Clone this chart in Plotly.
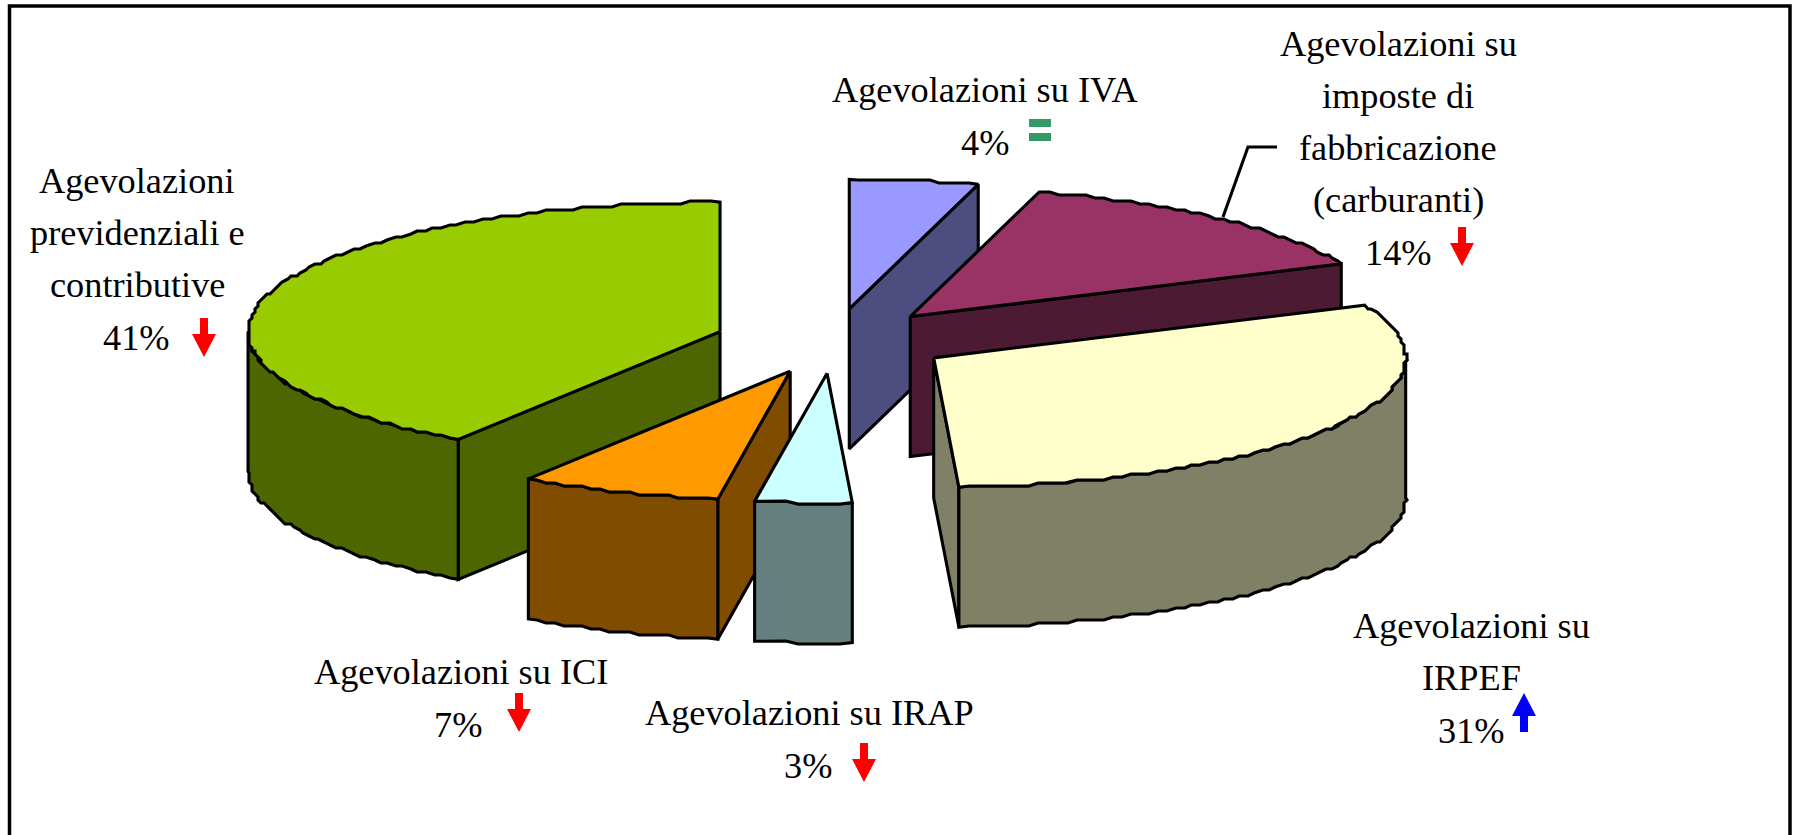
import numpy as np
import plotly.graph_objects as go

# ---- data, clockwise from 12 o'clock ----
categories = ["Agevolazioni su IVA", "Agevolazioni su imposte di fabbricazione (carburanti)",
              "Agevolazioni su IRPEF", "Agevolazioni su IRAP", "Agevolazioni su ICI",
              "Agevolazioni previdenziali e contributive"]
values = [4.4, 13.9, 30.8, 3.3, 6.9, 40.6]
top_colors = ["#9999FF", "#993366", "#FFFFCC", "#CCFFFF", "#FF9900", "#99CC00"]
side_colors = ["#4D4D80", "#4D1A33", "#808066", "#668080", "#804D00", "#4D6600"]
draw_order = [0, 1, 2, 5, 4, 3]

label_lines = [
    ["Agevolazioni su IVA"],
    ["Agevolazioni su", "imposte di", "fabbricazione", "(carburanti)"],
    ["Agevolazioni su", "IRPEF"],
    ["Agevolazioni su IRAP"],
    ["Agevolazioni su ICI"],
    ["Agevolazioni", "previdenziali e", "contributive"],
]
label_x = [985, 1398, 1471, 809, 461, 137]
label_base = [102, 56, 638, 725, 684, 193]
pct_x = [985, 1398, 1471, 808, 458, 136]
trend = ["eq", "down", "up", "down", "down", "down"]
trend_x = [1040, 1462, 1524, 864, 519, 204]
trend_y = [119, 227, 693, 743, 693, 318]

# ---- geometry ----
CX, CY, RX, RY, DEPTH, EXPLODE, GRID = 833, 341, 472, 129.5, 140, 0.25, 3
ARC_STEP = 1.2
LINE = 3.1
FONT = 36.3
PITCH = 52
total = sum(values)
edges = np.concatenate([[0], np.cumsum(values)]) / total * 360


def unit(theta):
    t = np.radians(theta)
    return RX * np.sin(t), -RY * np.cos(t)


def arc(a, b, ax, ay):
    n = max(2, int(abs(b - a) / ARC_STEP) + 1)
    ts = np.linspace(a, b, n)
    ux, uy = unit(ts)
    x = ax + ux
    y = ay + uy
    sx = np.round(x / GRID) * GRID
    sy = np.round(y / GRID) * GRID
    sx[0], sy[0], sx[-1], sy[-1] = x[0], y[0], x[-1], y[-1]
    return sx, sy


fig = go.Figure()


def poly(xs, ys, fill):
    fig.add_trace(go.Scatter(x=list(xs), y=list(ys), mode="lines", fill="toself", fillcolor=fill,
                             line=dict(color="#000000", width=LINE), showlegend=False, hoverinfo="skip"))


for i in draw_order:
    a, b = edges[i], edges[i + 1]
    ux, uy = unit((a + b) / 2)
    ax, ay = CX + EXPLODE * ux, CY + EXPLODE * uy
    for theta, visible in ((a, np.sin(np.radians(a)) < -1e-6), (b, np.sin(np.radians(b)) > 1e-6)):
        if visible:
            ex, ey = unit(theta)
            poly([ax, ax + ex, ax + ex, ax, ax], [ay, ay + ey, ay + ey + DEPTH, ay + DEPTH, ay], side_colors[i])
    lo, hi = max(a, 90), min(b, 270)
    if hi > lo:
        rx, ry = arc(lo, hi, ax, ay)
        poly(np.r_[rx, rx[::-1], rx[0]], np.r_[ry, ry[::-1] + DEPTH, ry[0]], side_colors[i])
    tx, ty = arc(a, b, ax, ay)
    poly(np.r_[ax, tx, ax], np.r_[ay, ty, ay], top_colors[i])

# leader line of the fuel label
fig.add_trace(go.Scatter(x=[1223, 1248, 1277], y=[217, 147, 147], mode="lines",
                         line=dict(color="#000000", width=LINE), showlegend=False, hoverinfo="skip"))

# trend marks
AL, AW, AS, AH = 39, 24, 8, 23
for tr, x, y in zip(trend, trend_x, trend_y):
    if tr == "eq":
        for off in (0, 14):
            poly([x - 11, x + 11, x + 11, x - 11, x - 11], [y + off, y + off, y + off + 8, y + off + 8, y + off], "#339966")
            fig.data[-1].line.width = 0
        continue
    if tr == "down":
        xs = [x - AS / 2, x + AS / 2, x + AS / 2, x + AW / 2, x, x - AW / 2, x - AS / 2, x - AS / 2]
        ys = [y, y, y + AL - AH, y + AL - AH, y + AL, y + AL - AH, y + AL - AH, y]
        col = "#FF0000"
    else:
        xs = [x, x + AW / 2, x + AS / 2, x + AS / 2, x - AS / 2, x - AS / 2, x - AW / 2, x]
        ys = [y, y + AH, y + AH, y + AL, y + AL, y + AH, y + AH, y]
        col = "#0000FF"
    poly(xs, ys, col)
    fig.data[-1].line.width = 0

# labels
ann = []
for i, lines in enumerate(label_lines):
    base = label_base[i]
    for k, line in enumerate(lines):
        ann.append(dict(x=label_x[i], y=base + k * PITCH - 0.33 * FONT, text=line))
    ann.append(dict(x=pct_x[i], y=base + len(lines) * PITCH + 1 - 0.33 * FONT, text=f"{round(values[i])}%"))
annotations = [dict(a, xref="x", yref="y", showarrow=False, xanchor="center", yanchor="middle",
                    font=dict(family="Liberation Serif", size=FONT, color="#000000")) for a in ann]

frame = dict(type="rect", xref="x", yref="y", x0=9.5, y0=6, x1=1790, y1=900,
             line=dict(color="#000000", width=3.5), fillcolor="rgba(0,0,0,0)", layer="above")

fig.update_layout(width=1795, height=835, margin=dict(l=0, r=0, t=0, b=0),
                  paper_bgcolor="#FFFFFF", plot_bgcolor="#FFFFFF",
                  xaxis=dict(range=[0, 1795], visible=False, fixedrange=True),
                  yaxis=dict(range=[835, 0], visible=False, fixedrange=True),
                  annotations=annotations, shapes=[frame], showlegend=False)

fig.write_html("out.html", config={"displayModeBar": False},
               post_script="document.body.style.margin='0';document.documentElement.style.overflow='hidden';")
